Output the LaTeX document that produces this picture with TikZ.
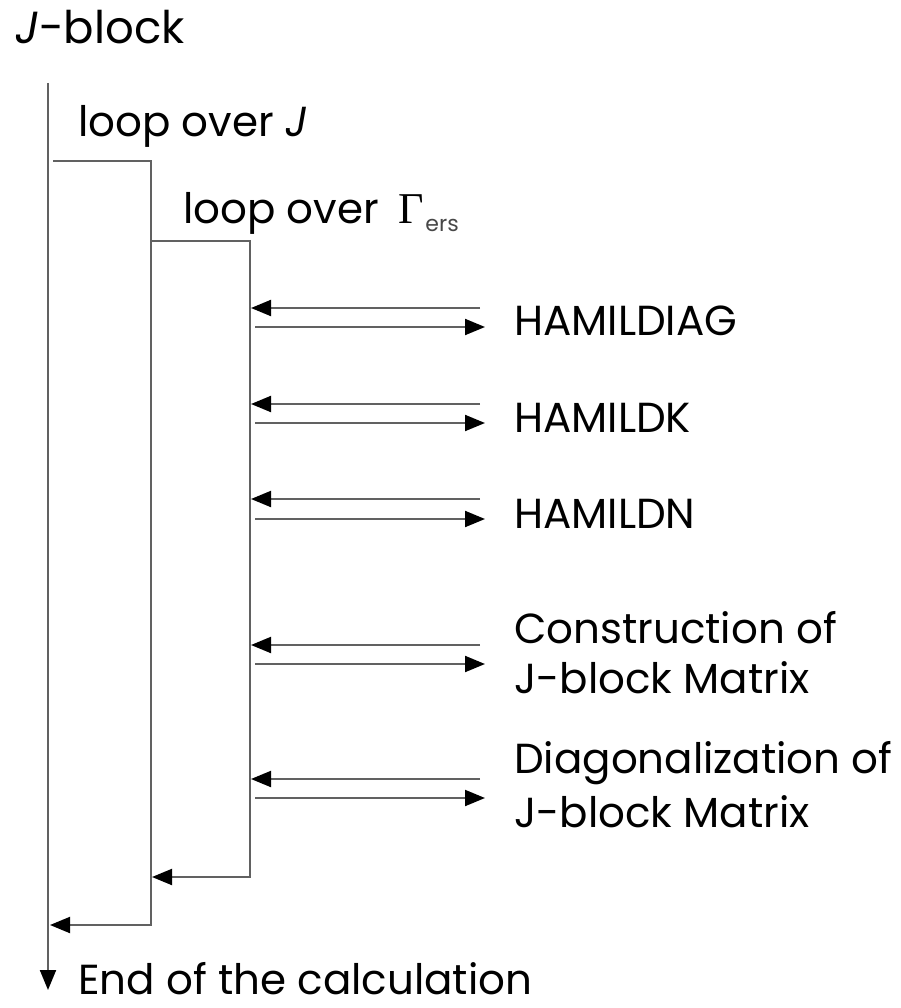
\documentclass[tikz,border=0pt]{standalone}
\usepackage{fontspec}
\setmainfont{Poppins}
\newfontfamily\greekserif{Liberation Serif}
\usetikzlibrary{arrows.meta}
\tikzset{
  wire/.style={draw=black!62, line width=2pt},
  tip/.style={-{Triangle[length=20pt,width=16pt,black]}},
  lbl/.style={anchor=base west, inner sep=0pt, font=\fontsize{42}{50}\selectfont},
}
\begin{document}
\begin{tikzpicture}[x=1pt,y=-1pt]
\useasboundingbox (0,0) rectangle (901,1008);

% headings
\node[lbl, font=\fontsize{45}{50}\selectfont] (title) at (15,44) {\textit{J}-block};
\node[lbl] (loopJ) at (78,137) {loop over \textit{J}};
\node[lbl] (loopG) at (183,223) {loop over\hspace{19pt}{\greekserif\fontsize{44}{44}\selectfont Γ}\hspace{2pt}\raisebox{-9pt}{\textcolor{black!72}{\fontsize{22}{22}\selectfont ers}}};
\node[lbl, text depth=0pt] (end) at (78,994) {End of the calculation};

% main flow line
\coordinate (start) at (48,83);
\coordinate (stop) at (48,990);
\draw[wire,tip] (start) -- (stop);

% outer loop over J
\coordinate (o1) at (53,161);
\coordinate (o2) at (151,161);
\coordinate (o3) at (151,925);
\coordinate (o4) at (50,925);
\draw[wire,tip] (o1) -- (o2) -- (o3) -- (o4);

% inner loop over Gamma
\coordinate (i1) at (151,241);
\coordinate (i2) at (250,241);
\coordinate (i3) at (250,877);
\coordinate (i4) at (152,877);
\draw[wire,tip] (i1) -- (i2) -- (i3) -- (i4);

% subroutine calls
\foreach \n/\yin/\yout in {a/308/327, b/404/423, c/499/519, d/645/664, e/779/798}{
  \coordinate (\n inR) at (480,\yin);
  \coordinate (\n inL) at (251,\yin);
  \coordinate (\n outL) at (255,\yout);
  \coordinate (\n outR) at (485,\yout);
  \draw[wire,tip] (\n inR) -- (\n inL);
  \draw[wire,tip] (\n outL) -- (\n outR);
}

\node[lbl] (hdiag) at (514,335) {HAMILDIAG};
\node[lbl] (hk) at (514,432) {HAMILDK};
\node[lbl] (hn) at (514,528) {HAMILDN};
\node[lbl] (cons1) at (514,643) {Construction of};
\node[lbl] (cons2) at (514,693) {J-block Matrix};
\node[lbl] (diag1) at (514,773) {Diagonalization of};
\node[lbl] (diag2) at (514,827) {J-block Matrix};
\end{tikzpicture}
\end{document}
